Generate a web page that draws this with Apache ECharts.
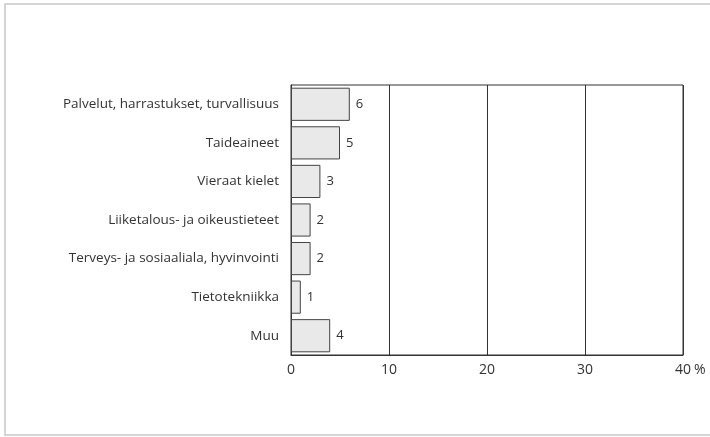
<!DOCTYPE html>
<html><head><meta charset="utf-8">
<script src="https://cdn.jsdelivr.net/npm/echarts@6/dist/echarts.min.js"></script>
<style>html,body{margin:0;padding:0;background:#fff}#c{width:710px;height:437px}</style>
</head><body><div id="c"></div>
<script>
const categories = ["Palvelut, harrastukset, turvallisuus","Taideaineet","Vieraat kielet","Liiketalous- ja oikeustieteet","Terveys- ja sosiaaliala, hyvinvointi","Tietotekniikka","Muu"];
const values = [6,5,3,2,2,1,4];
const xTicks = [0,10,20,30,40];
const unit = "%";
const FONT = '"Open Sans", sans-serif';
const chart = echarts.init(document.getElementById('c'));
chart.setOption({
  animation:false,
  backgroundColor:'#fff',
  graphic:[
    {type:'rect',shape:{x:5,y:4,width:730,height:431},style:{fill:'none',stroke:'#c8c8c8',lineWidth:1.5},silent:true},
    {type:'text',left:694,top:363,style:{text:unit,fill:'#333',font:'14px "Open Sans", sans-serif'},silent:true}
  ],
  grid:{left:291,right:27,top:85,bottom:82,show:true,borderColor:'#333',borderWidth:1,containLabel:false},
  xAxis:{type:'value',min:0,max:40,interval:10,
    axisLine:{show:true,lineStyle:{color:'#333'}},axisTick:{show:false},
    splitLine:{show:true,lineStyle:{color:'#333',width:1}},
    axisLabel:{color:'#333',fontFamily:FONT,fontSize:14,margin:8}},
  yAxis:{type:'category',data:categories,inverse:true,
    axisLine:{show:true,lineStyle:{color:'#333'}},axisTick:{show:false},
    axisLabel:{color:'#333',fontFamily:FONT,fontSize:13.5,margin:12}},
  series:[{type:'bar',data:values,barCategoryGap:'14%',
    itemStyle:{color:'#e9e9e9',borderColor:'#444',borderWidth:1},
    label:{show:true,position:'right',distance:6,color:'#333',fontFamily:FONT,fontSize:13}}]
});
</script></body></html>
